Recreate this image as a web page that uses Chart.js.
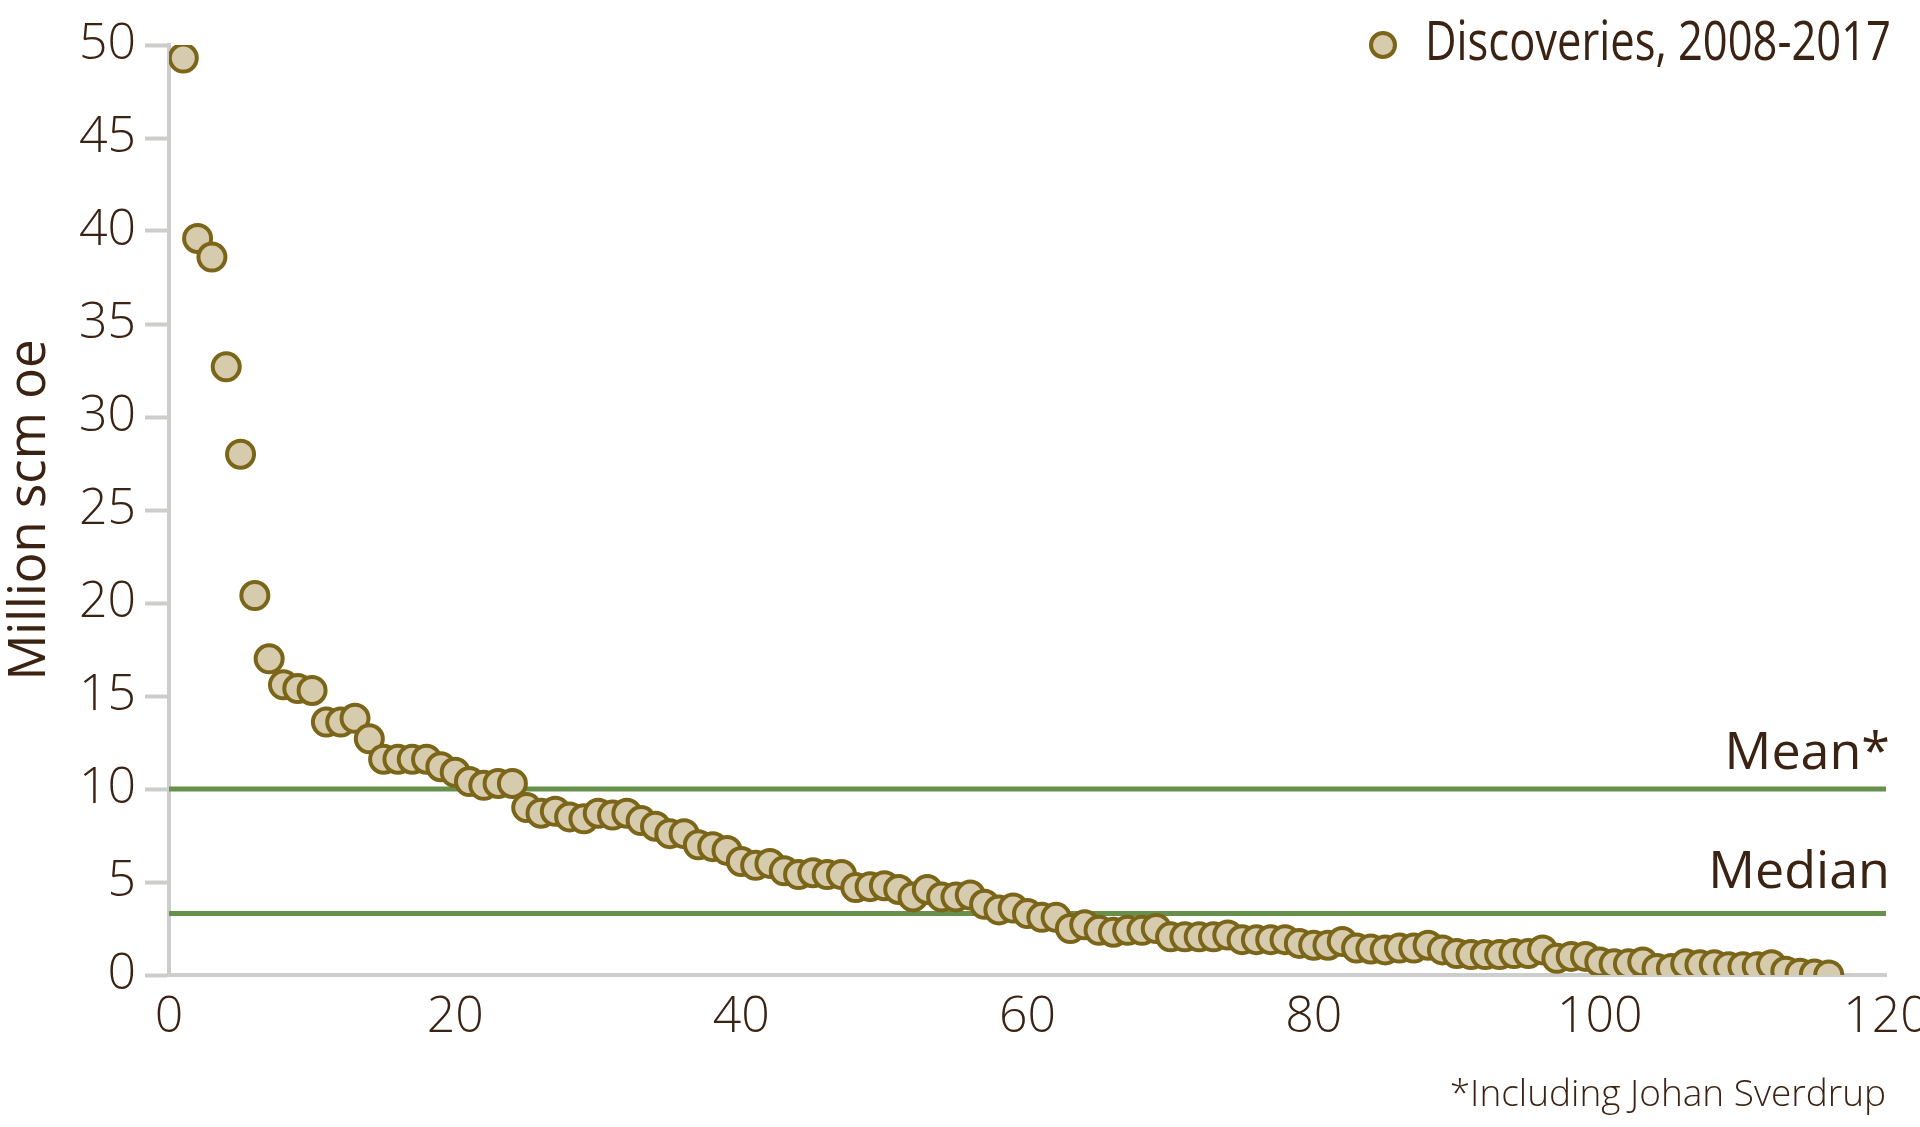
<!DOCTYPE html>
<html>
<head>
<meta charset="utf-8">
<title>Discoveries 2008-2017</title>
<script src="https://cdn.jsdelivr.net/npm/chart.js@4.4.1/dist/chart.umd.min.js"></script>
<style>
  html, body { margin: 0; padding: 0; background: #ffffff; }
  #wrap { width: 1920px; height: 1127px; }
</style>
</head>
<body>
<div id="wrap"><canvas id="chart" width="1920" height="1127"></canvas></div>
<script>
// discovery sizes, sorted, million scm oe (rank 1..116)
const discoveries = [
  49.3, 39.6, 38.6, 32.7, 28.0, 20.4, 17.0, 15.6, 15.4, 15.3,
  13.6, 13.6, 13.8, 12.7, 11.6, 11.6, 11.6, 11.6, 11.2, 10.9,
  10.4, 10.2, 10.3, 10.3, 9.0, 8.7, 8.8, 8.5, 8.4, 8.7,
  8.6, 8.7, 8.3, 8.0, 7.6, 7.6, 7.0, 6.9, 6.7, 6.1,
  5.9, 6.0, 5.6, 5.4, 5.5, 5.4, 5.4, 4.7, 4.75, 4.8,
  4.6, 4.2, 4.6, 4.2, 4.2, 4.3, 3.8, 3.5, 3.6, 3.3,
  3.1, 3.1, 2.5, 2.7, 2.4, 2.3, 2.4, 2.4, 2.5, 2.05,
  2.05, 2.05, 2.05, 2.15, 1.9, 1.9, 1.9, 1.9, 1.7, 1.6,
  1.6, 1.8, 1.45, 1.4, 1.35, 1.45, 1.45, 1.6, 1.35, 1.15,
  1.1, 1.1, 1.1, 1.15, 1.15, 1.35, 0.9, 1.0, 1.0, 0.7,
  0.6, 0.6, 0.7, 0.35, 0.35, 0.6, 0.55, 0.55, 0.45, 0.45,
  0.45, 0.55, 0.2, 0.1, 0.05, 0.0
];
const meanValue = 10.0;
const medianValue = 3.3;
const xTicks = [0, 20, 40, 60, 80, 100, 120];
const yTicks = [0, 5, 10, 15, 20, 25, 30, 35, 40, 45, 50];

const seriesLabel = 'Discoveries, 2008-2017';
const yTitle = 'Million scm oe';
const footnote = '*Including Johan Sverdrup';

const textColor = '#3b2314';
const axisColor = '#cdcdcb';
const lineGreen = '#66904c';
const dotFill = '#d6cbac';
const dotBorder = '#7b6519';

const points = discoveries.map((v, i) => ({ x: i + 1, y: v }));
const xMin = xTicks[0], xMax = xTicks[xTicks.length - 1];

// "Mean*" / "Median" labels above the reference lines, plus the legend in the top right
const annotations = {
  id: 'annotations',
  afterDraw(chart) {
    const { ctx, chartArea, scales } = chart;
    ctx.save();
    ctx.fillStyle = textColor;
    ctx.textAlign = 'right';
    ctx.textBaseline = 'alphabetic';
    ctx.font = '400 52px "Open Sans"';
    ctx.fillText('Mean*', chartArea.right + 4, scales.y.getPixelForValue(meanValue) - 20);
    ctx.fillText('Median', chartArea.right + 4, scales.y.getPixelForValue(medianValue) - 26);

    // legend
    const ly = scales.y.getPixelForValue(yTicks[yTicks.length - 1]);
    ctx.font = '400 54px "Open Sans"';
    const w = ctx.measureText(seriesLabel).width;
    const target = 466;
    const sx = Math.min(1, target / w);
    ctx.save();
    ctx.translate(chartArea.right + 5, ly);
    ctx.scale(sx, 1);
    ctx.textBaseline = 'middle';
    ctx.fillText(seriesLabel, 0, 0);
    ctx.restore();
    ctx.beginPath();
    ctx.arc(chartArea.right + 5 - target - 42, ly, 12, 0, Math.PI * 2);
    ctx.fillStyle = dotFill;
    ctx.fill();
    ctx.lineWidth = 4;
    ctx.strokeStyle = dotBorder;
    ctx.stroke();
    ctx.restore();
  }
};

new Chart(document.getElementById('chart'), {
  type: 'scatter',
  data: {
    datasets: [
      {
        label: seriesLabel,
        data: points,
        backgroundColor: dotFill,
        borderColor: dotBorder,
        borderWidth: 4,
        pointRadius: 13.5,
        pointHoverRadius: 13.5,
        order: 0
      },
      {
        type: 'line',
        label: 'Mean',
        data: [{ x: xMin, y: meanValue }, { x: xMax, y: meanValue }],
        borderColor: lineGreen,
        borderWidth: 5,
        pointRadius: 0,
        order: 1
      },
      {
        type: 'line',
        label: 'Median',
        data: [{ x: xMin, y: medianValue }, { x: xMax, y: medianValue }],
        borderColor: lineGreen,
        borderWidth: 5,
        pointRadius: 0,
        order: 1
      }
    ]
  },
  options: {
    responsive: false,
    animation: false,
    layout: { padding: { left: 0, top: 45, right: 34, bottom: 0 } },
    plugins: { legend: { display: false }, tooltip: { enabled: false } },
    scales: {
      x: {
        type: 'linear',
        min: xMin,
        max: xMax,
        afterBuildTicks: s => { s.ticks = xTicks.map(v => ({ value: v })); },
        afterFit: s => { s.height = 152; s.paddingRight = 0; s.paddingLeft = 0; },
        grid: { drawOnChartArea: false, drawTicks: false },
        border: { color: axisColor, width: 4 },
        ticks: {
          color: textColor,
          padding: 13,
          font: { family: 'Open Sans', size: 50, weight: 300 }
        },
        title: {
          display: true,
          text: footnote,
          align: 'end',
          color: textColor,
          padding: { top: 0, bottom: 9 },
          font: { family: 'Open Sans', size: 37, weight: 300 }
        }
      },
      y: {
        min: yTicks[0],
        max: yTicks[yTicks.length - 1],
        afterBuildTicks: s => { s.ticks = yTicks.map(v => ({ value: v })); },
        afterFit: s => { s.width = 169; },
        grid: {
          drawOnChartArea: false,
          drawTicks: true,
          tickLength: 24,
          tickWidth: 4,
          tickColor: axisColor
        },
        border: { color: axisColor, width: 4 },
        ticks: {
          color: textColor,
          padding: 9,
          font: { family: 'Open Sans', size: 50, weight: 300 }
        },
        title: {
          display: true,
          text: yTitle,
          color: textColor,
          padding: { top: 0, bottom: 0 },
          font: { family: 'Open Sans', size: 51, weight: 400 }
        }
      }
    }
  },
  plugins: [annotations]
});
</script>
</body>
</html>
